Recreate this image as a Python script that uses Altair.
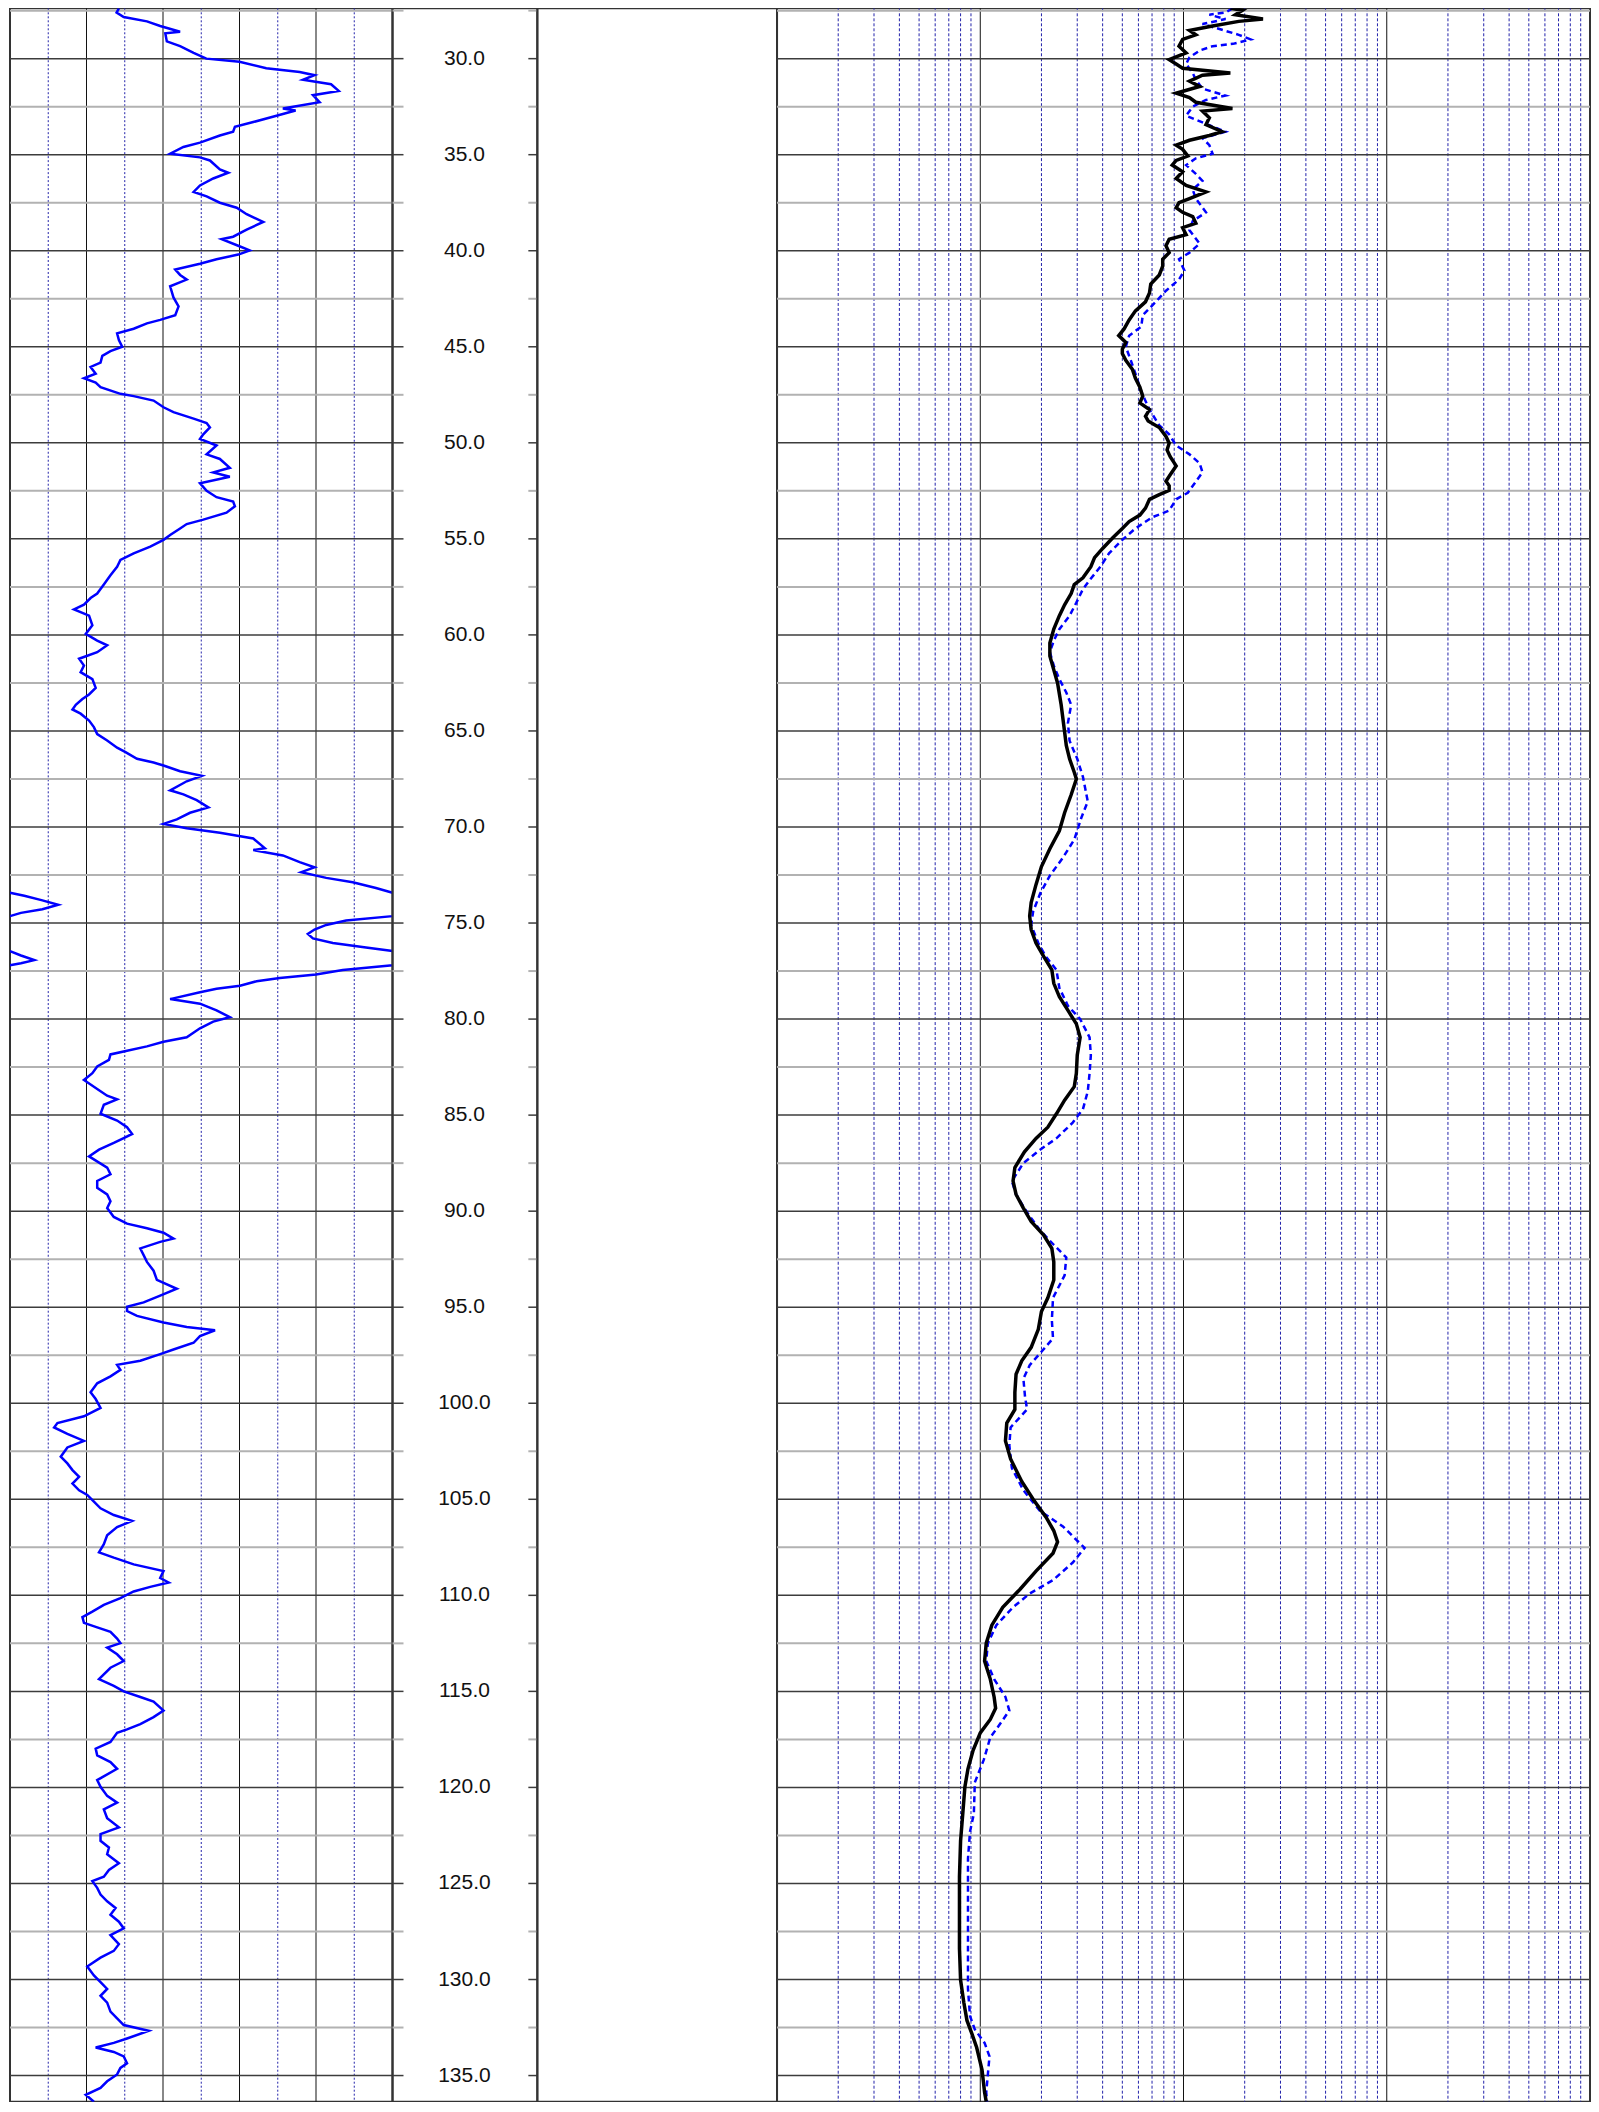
import altair as alt
import pandas as pd

# ---------------- data ----------------
gr_depth = [27.38, 27.6, 27.83, 28.06, 28.3, 28.6, 28.68, 29.1, 29.35, 29.7, 30.0, 30.16, 30.5, 30.7, 30.86,
            31.1, 31.33, 31.68, 31.9, 32.27, 32.6, 32.7, 32.97, 33.3, 33.55, 33.8, 34.0, 34.37, 34.6, 34.95, 35.14,
            35.3, 35.77, 35.94, 36.24, 36.6, 36.94, 37.17, 37.5, 37.76, 38.1, 38.5, 38.9, 39.27, 39.4, 39.74, 39.98,
            40.2, 40.44, 40.68, 40.98, 41.26, 41.5, 41.85, 42.43, 42.9, 43.36, 43.6, 43.78, 44.06, 44.3, 44.65, 45.0,
            45.23, 45.47, 45.82, 46.05, 46.4, 46.64, 46.87, 47.1, 47.45, 47.57, 47.8, 48.15, 48.4, 48.74, 48.97, 49.2,
            49.56, 49.8, 50.14, 50.6, 50.84, 51.3, 51.54, 51.77, 52.1, 52.5, 52.83, 53.06, 53.3, 53.64, 54.0, 54.23,
            54.46, 54.8, 55.05, 55.4, 55.75, 56.1, 56.45, 56.9, 57.38, 57.85, 58.08, 58.43, 58.67, 59.0, 59.5, 59.95,
            60.3, 60.54, 60.9, 61.24, 61.6, 61.94, 62.3, 62.76, 63.1, 63.34, 63.64, 63.88, 64.1, 64.46, 64.8, 65.16,
            65.5, 65.87, 66.1, 66.45, 66.64, 66.8, 67.1, 67.34, 67.62, 68.09, 68.3, 68.6, 68.98, 69.26, 69.6, 69.84,
            70.07, 70.3, 70.6, 71.1, 71.2, 71.48, 71.83, 72.1, 72.35, 72.65, 72.88, 73.18, 73.42, 73.58, 73.82, 74.05,
            74.28, 74.47, 74.64, 74.87, 75.1, 75.34, 75.57, 75.8, 76.04, 76.27, 76.46, 76.69, 76.93, 77.09, 77.2, 77.44,
            77.68, 77.86, 78.03, 78.26, 78.42, 78.6, 78.96, 79.2, 79.55, 79.9, 80.13, 80.48, 80.95, 81.18, 81.42, 81.65,
            81.84, 82.12, 82.47, 82.82, 83.17, 83.64, 83.99, 84.18, 84.46, 84.93, 85.28, 85.63, 85.98, 86.2, 86.45, 86.8,
            87.15, 87.73, 88.08, 88.43, 88.78, 89.13, 89.48, 89.84, 90.3, 90.65, 90.89, 91.12, 91.43, 91.6, 91.94, 92.29,
            92.64, 93.1, 93.58, 94.04, 94.4, 94.75, 94.98, 95.2, 95.45, 95.8, 96.03, 96.2, 96.5, 96.85, 97.2, 97.44,
            97.79, 98.0, 98.26, 98.6, 98.96, 99.43, 99.78, 100.24, 100.68, 101.03, 101.26, 101.6, 101.96, 102.3, 102.78, 103.13,
            103.48, 103.83, 104.18, 104.53, 104.77, 105.12, 105.47, 105.82, 106.12, 106.45, 106.87, 107.34, 107.76, 108.04, 108.39, 108.74,
            109.1, 109.33, 109.56, 109.8, 110.15, 110.5, 110.85, 111.13, 111.43, 111.67, 111.9, 112.25, 112.49, 112.72, 113.07, 113.42,
            113.77, 114.36, 114.71, 115.0, 115.29, 115.53, 116.0, 116.34, 116.7, 116.98, 117.16, 117.63, 117.98, 118.33, 118.68, 119.03,
            119.62, 119.97, 120.44, 120.79, 121.14, 121.6, 122.08, 122.43, 122.78, 123.13, 123.48, 123.95, 124.3, 124.65, 124.88, 125.23,
            125.58, 125.93, 126.28, 126.63, 126.99, 127.34, 127.69, 128.16, 128.51, 128.86, 129.32, 129.79, 130.14, 130.49, 130.85, 131.2,
            131.67, 132.02, 132.37, 132.67, 133.07, 133.3, 133.54, 133.77, 134.0, 134.36, 134.6, 134.94, 135.3, 135.64, 136.0, 136.36]
gr_value = [42.7, 41.8, 44.6, 53.7, 58.9, 66.7, 60.9, 61.5, 66.7, 72.0, 77.0, 90.0, 100.5, 113.6, 119.4,
            114.9, 125.9, 128.9, 118.8, 121.4, 107.0, 112.0, 104.5, 95.4, 88.2, 87.5, 82.3, 74.5, 68.0, 62.8, 74.5,
            78.4, 82.3, 85.6, 79.7, 74.5, 72.0, 77.1, 82.3, 88.9, 92.8, 99.3, 92.8, 87.5, 83.0, 89.5, 94.0,
            89.5, 81.0, 74.5, 64.8, 66.7, 69.3, 62.8, 64.1, 66.1, 64.8, 58.9, 53.7, 48.5, 42.0, 42.7, 44.0,
            39.4, 36.2, 35.5, 31.6, 33.6, 29.0, 33.6, 35.5, 43.3, 48.5, 56.3, 60.2, 64.1, 72.0, 77.1, 78.4,
            75.8, 74.5, 81.0, 77.1, 82.3, 86.2, 79.7, 86.2, 74.5, 77.1, 81.0, 87.5, 88.2, 84.9, 75.8, 69.3,
            66.7, 62.8, 60.2, 55.0, 48.5, 43.3, 42.0, 39.4, 36.8, 34.2, 31.6, 29.0, 25.1, 31.0, 32.3, 29.7,
            34.2, 38.1, 34.2, 27.1, 29.0, 27.7, 32.3, 33.6, 31.0, 28.4, 25.8, 24.5, 27.7, 31.0, 32.9, 34.2,
            38.1, 42.0, 45.3, 49.8, 56.3, 60.2, 66.7, 75.2, 69.3, 62.8, 68.0, 73.2, 77.8, 70.6, 65.4, 60.2,
            69.3, 82.3, 95.4, 99.9, 95.4, 107.0, 113.6, 119.4, 114.2, 124.0, 134.4, 143.5, 150.0, 155.6, 162.7, 168.9,
            162.7, 154.3, 150.0, 131.8, 124.0, 119.4, 116.8, 118.8, 126.6, 139.6, 150.0, 154.3, 159.5, 154.3, 150.0, 130.5,
            120.0, 105.8, 96.7, 90.2, 81.0, 74.5, 62.8, 74.5, 81.0, 86.2, 79.7, 74.5, 69.3, 60.2, 53.7, 45.9,
            39.4, 38.8, 34.2, 32.3, 29.0, 34.2, 38.1, 42.0, 36.8, 35.5, 42.0, 45.9, 47.9, 44.6, 40.7, 34.9,
            31.0, 38.1, 39.4, 34.2, 34.2, 38.1, 39.4, 38.1, 40.7, 45.9, 53.7, 60.2, 64.1, 58.9, 51.1, 52.4,
            53.7, 56.3, 57.6, 65.4, 58.9, 52.4, 45.9, 45.9, 49.8, 60.2, 69.3, 80.4, 74.5, 72.0, 64.1, 58.9,
            51.1, 42.0, 43.3, 39.4, 34.2, 31.6, 33.6, 35.5, 29.0, 18.6, 17.3, 22.5, 29.0, 22.5, 19.9, 22.5,
            24.5, 27.1, 24.5, 27.1, 30.3, 32.9, 35.5, 40.7, 47.9, 42.0, 38.1, 36.8, 34.9, 40.7, 48.5, 60.2,
            58.9, 62.2, 55.0, 48.5, 43.3, 36.8, 32.3, 28.4, 29.0, 34.2, 39.4, 42.0, 43.3, 38.1, 42.0, 44.6,
            39.4, 34.9, 40.7, 44.6, 51.1, 56.3, 60.2, 56.3, 51.1, 45.9, 42.0, 39.4, 33.6, 34.2, 39.4, 42.0,
            34.2, 35.5, 38.1, 42.0, 36.8, 38.1, 42.7, 35.5, 35.5, 38.8, 38.1, 42.7, 38.8, 36.8, 32.3, 34.2,
            35.5, 38.1, 41.4, 39.4, 42.7, 44.6, 39.4, 42.7, 40.7, 35.5, 30.3, 32.9, 35.5, 38.1, 35.5, 38.1,
            39.4, 42.0, 44.6, 54.4, 45.9, 40.7, 33.6, 40.7, 44.6, 45.9, 43.3, 42.0, 38.1, 35.5, 29.7, 32.9]

deep_depth = [27.38, 27.48, 27.71, 27.94, 28.06, 28.3, 28.53, 28.76, 29.0, 29.35, 29.7, 30.05, 30.28, 30.5, 30.75,
              30.86, 31.17, 31.45, 31.8, 32.03, 32.27, 32.6, 32.73, 33.08, 33.43, 33.8, 34.0, 34.25, 34.5, 34.72, 35.07,
              35.3, 35.54, 35.89, 36.24, 36.6, 36.94, 37.29, 37.5, 37.76, 38.0, 38.22, 38.57, 38.8, 39.16, 39.4, 39.74,
              40.1, 40.44, 40.8, 41.26, 41.73, 42.2, 42.66, 43.13, 43.6, 44.07, 44.42, 44.77, 45.12, 45.35, 45.7, 46.17,
              46.64, 47.1, 47.57, 47.92, 48.27, 48.62, 48.86, 49.2, 49.67, 50.02, 50.37, 50.72, 51.2, 51.66, 52.0, 52.24,
              52.48, 52.7, 52.94, 53.4, 53.76, 54.1, 54.46, 54.93, 55.5, 55.98, 56.45, 57.03, 57.38, 57.85, 58.43, 59.0,
              59.7, 60.42, 61.1, 61.82, 62.5, 63.64, 64.35, 65.05, 65.75, 66.45, 67.15, 67.5, 68.32, 69.26, 70.2, 71.13,
              72.06, 73.0, 73.93, 74.64, 75.34, 76.04, 76.74, 77.44, 78.14, 78.84, 79.55, 80.25, 80.95, 81.88, 82.82, 83.52,
              84.22, 84.93, 85.63, 86.21, 86.91, 87.73, 88.43, 89.13, 89.84, 90.54, 91.24, 91.94, 92.64, 93.58, 94.51, 95.22,
              96.15, 97.09, 97.79, 98.49, 99.43, 100.32, 101.03, 101.96, 102.9, 104.07, 105.0, 105.94, 106.64, 107.22, 107.81, 108.74,
              109.68, 110.62, 111.55, 112.49, 113.42, 114.36, 115.29, 115.88, 116.46, 117.16, 118.1, 119.03, 119.97, 121.37, 122.78, 124.65,
              126.52, 128.39, 130.03, 131.2, 132.13, 132.83, 133.54, 134.7, 135.87, 136.36]
deep_value = [17.0, 19.5, 18.0, 24.6, 18.7, 13.9, 10.7, 11.5, 9.9, 9.5, 10.3, 8.5, 9.2, 9.9, 17.0,
              12.4, 10.7, 12.0, 9.2, 10.7, 11.5, 17.4, 12.4, 13.4, 12.9, 15.5, 13.4, 10.7, 9.2, 9.9, 10.5,
              9.2, 8.8, 9.9, 9.2, 10.3, 12.9, 10.7, 9.5, 9.2, 9.9, 11.1, 11.5, 9.9, 10.3, 8.5, 8.2,
              8.5, 7.9, 7.9, 7.6, 6.9, 6.8, 6.5, 5.8, 5.4, 5.1, 4.8, 5.2, 5.0, 5.0, 5.2, 5.6,
              5.8, 6.1, 6.3, 6.1, 6.8, 6.5, 6.7, 7.6, 8.2, 8.5, 8.3, 8.6, 9.2, 8.6, 8.2, 8.5,
              8.5, 7.6, 6.8, 6.5, 6.1, 5.4, 5.0, 4.5, 4.0, 3.65, 3.5, 3.2, 2.9, 2.8, 2.6, 2.45,
              2.3, 2.2, 2.2, 2.3, 2.4, 2.5, 2.55, 2.6, 2.65, 2.75, 2.9, 2.97, 2.8, 2.6, 2.45, 2.2,
              2.0, 1.88, 1.78, 1.75, 1.78, 1.88, 2.05, 2.25, 2.3, 2.45, 2.7, 2.97, 3.1, 3.0, 2.97, 2.9,
              2.6, 2.37, 2.15, 1.88, 1.65, 1.48, 1.45, 1.5, 1.63, 1.78, 2.05, 2.25, 2.3, 2.3, 2.15, 2.0,
              1.93, 1.78, 1.6, 1.5, 1.48, 1.48, 1.35, 1.33, 1.41, 1.6, 1.82, 2.11, 2.3, 2.4, 2.28, 1.88,
              1.57, 1.29, 1.14, 1.07, 1.05, 1.12, 1.17, 1.19, 1.12, 1.0, 0.92, 0.87, 0.84, 0.82, 0.8, 0.79,
              0.79, 0.79, 0.8, 0.83, 0.86, 0.91, 0.96, 1.02, 1.05, 1.07]

shallow_depth = [27.38, 27.6, 27.71, 27.94, 28.2, 28.4, 28.76, 29.0, 29.23, 29.35, 29.58, 29.93, 30.28, 30.75,
                 31.1, 31.56, 31.92, 32.15, 32.5, 32.97, 33.32, 33.8, 34.14, 34.5, 34.95, 35.19, 35.54, 36.0, 36.36, 36.82,
                 37.29, 38.0, 38.46, 38.93, 39.63, 40.1, 40.44, 41.03, 41.5, 42.08, 42.66, 43.36, 43.95, 44.42, 45.0, 45.7,
                 46.4, 47.34, 48.27, 49.09, 49.56, 50.14, 50.6, 51.07, 51.54, 52.13, 52.6, 52.94, 53.53, 53.88, 54.46, 55.05,
                 55.75, 56.45, 57.15, 57.62, 58.32, 59.0, 59.7, 60.3, 60.9, 61.6, 62.3, 63.0, 63.64, 64.58, 65.51, 66.45,
                 67.39, 68.67, 69.49, 70.66, 71.6, 72.53, 73.47, 74.4, 75.1, 76.04, 76.74, 77.44, 78.38, 79.31, 80.0, 80.95,
                 81.88, 82.82, 83.76, 84.69, 85.39, 86.21, 86.8, 87.5, 88.43, 89.13, 90.07, 91.0, 91.71, 92.41, 93.34, 94.51,
                 95.68, 96.62, 97.32, 98.02, 98.72, 99.66, 100.32, 101.26, 102.2, 103.37, 104.53, 105.59, 106.41, 107.11, 107.53, 108.28,
                 109.21, 109.91, 110.62, 111.55, 112.49, 113.42, 114.36, 115.29, 116.0, 116.7, 117.4, 118.57, 119.74, 121.37, 122.31, 123.71,
                 126.05, 128.39, 130.49, 131.9, 132.6, 133.3, 134.0, 134.94, 135.87, 136.36]
shallow_value = [17.4, 16.1, 13.4, 16.1, 12.4, 14.4, 18.7, 21.4, 17.5, 13.9, 12.0, 10.7, 10.3, 11.1,
                 11.5, 12.4, 16.1, 12.9, 11.1, 10.3, 12.4, 16.1, 12.4, 13.4, 13.9, 11.5, 10.3, 11.5, 12.4, 11.1,
                 11.5, 12.9, 11.1, 10.7, 12.0, 10.7, 9.5, 10.1, 9.5, 8.2, 7.3, 6.3, 6.2, 5.4, 5.2, 5.5,
                 5.8, 6.2, 6.8, 7.6, 8.5, 9.2, 10.7, 12.0, 12.4, 11.3, 10.5, 9.2, 8.5, 7.0, 5.8, 5.0,
                 4.3, 3.9, 3.45, 3.2, 2.97, 2.75, 2.45, 2.3, 2.2, 2.3, 2.45, 2.65, 2.8, 2.7, 2.75, 3.0,
                 3.2, 3.38, 3.15, 2.9, 2.55, 2.2, 1.97, 1.82, 1.78, 1.93, 2.1, 2.37, 2.45, 2.7, 3.1, 3.45,
                 3.5, 3.45, 3.38, 3.2, 2.85, 2.37, 1.97, 1.63, 1.43, 1.5, 1.7, 1.97, 2.28, 2.65, 2.6, 2.28,
                 2.25, 2.28, 2.0, 1.75, 1.63, 1.66, 1.7, 1.41, 1.39, 1.43, 1.63, 1.96, 2.55, 2.97, 3.26, 2.86,
                 2.28, 1.75, 1.45, 1.2, 1.09, 1.07, 1.17, 1.33, 1.39, 1.25, 1.12, 1.04, 0.94, 0.93, 0.89, 0.87,
                 0.87, 0.87, 0.87, 0.89, 0.94, 1.05, 1.11, 1.09, 1.07, 1.08]

depth_labels = [30, 35, 40, 45, 50, 55, 60, 65, 70, 75, 80, 85, 90, 95, 100, 105, 110, 115, 120, 125, 130, 135]
minor_depths = [27.5, 32.5, 37.5, 42.5, 47.5, 52.5, 57.5, 62.5, 67.5, 72.5, 77.5, 82.5, 87.5, 92.5, 97.5,
                102.5, 107.5, 112.5, 117.5, 122.5, 127.5, 132.5]
gr_major_ticks = [30, 60, 90, 120]
gr_minor_ticks = [15, 45, 75, 105, 135]
res_major_ticks = [1, 10, 100]
res_minor_ticks = [0.2, 0.3, 0.4, 0.5, 0.6, 0.7, 0.8, 0.9, 2, 3, 4, 5, 6, 7, 8, 9,
                   20, 30, 40, 50, 60, 70, 80, 90, 200, 300, 400, 500, 600, 700, 800, 900]

GR_MAX = 150
Y_DOMAIN = [27.38, 136.36]
H = 2096

# ---------------- tables ----------------
gr_df = pd.DataFrame({"depth": gr_depth, "gr": gr_value})
mask = gr_df["gr"] >= GR_MAX
seg_id = (mask != mask.shift()).cumsum()
wrap_df = gr_df[mask].copy()
wrap_df["gr"] = wrap_df["gr"] - GR_MAX
wrap_df["seg"] = seg_id[mask]

deep_df = pd.DataFrame({"depth": deep_depth, "res": deep_value})
shallow_df = pd.DataFrame({"depth": shallow_depth, "res": shallow_value})
major_df = pd.DataFrame({"depth": depth_labels, "label": [f"{d:.1f}" for d in depth_labels]})
minor_df = pd.DataFrame({"depth": minor_depths})

y_scale = alt.Scale(domain=Y_DOMAIN, reverse=True, nice=False, zero=False)
Y = alt.Y("depth:Q", scale=y_scale, axis=None)

MAJ_H = dict(color="#3c3c3c", strokeWidth=1.5)
MIN_H = dict(color="#b2b2b2", strokeWidth=2)
DOT = "#2222aa"

def hgrid():
    return [
        alt.Chart(minor_df).mark_rule(**MIN_H).encode(y=Y),
        alt.Chart(major_df).mark_rule(**MAJ_H).encode(y=Y),
    ]

# ---------------- GR track ----------------
gx = alt.Scale(domain=[0, GR_MAX], nice=False, zero=False)
gr_layers = [
    alt.Chart(pd.DataFrame({"gr": gr_minor_ticks})).mark_rule(color=DOT, strokeWidth=1, strokeDash=[2, 2]).encode(
        x=alt.X("gr:Q", scale=gx, axis=None)),
    alt.Chart(pd.DataFrame({"gr": gr_major_ticks})).mark_rule(color="#111111", strokeWidth=1).encode(
        x=alt.X("gr:Q", scale=gx, axis=None)),
] + hgrid() + [
    alt.Chart(gr_df).mark_line(color="#0000ff", strokeWidth=2.5, clip=True).encode(
        x=alt.X("gr:Q", scale=gx, axis=None), y=Y, order="depth:Q"),
    alt.Chart(wrap_df).mark_line(color="#0000ff", strokeWidth=2.5, clip=True).encode(
        x=alt.X("gr:Q", scale=gx, axis=None), y=Y, detail="seg:N", order="depth:Q"),
]
gr_chart = alt.layer(*gr_layers).properties(width=383, height=H)

# ---------------- depth track ----------------
DW = 145
depth_layers = [
    alt.Chart(minor_df).mark_rule(**MIN_H).encode(y=Y, x=alt.value(0), x2=alt.value(11)),
    alt.Chart(major_df).mark_rule(**MAJ_H).encode(y=Y, x=alt.value(0), x2=alt.value(11)),
    alt.Chart(minor_df).mark_rule(**MIN_H).encode(y=Y, x=alt.value(DW - 9), x2=alt.value(DW)),
    alt.Chart(major_df).mark_rule(**MAJ_H).encode(y=Y, x=alt.value(DW - 9), x2=alt.value(DW)),
    alt.Chart(major_df).mark_text(font="Liberation Sans", fontSize=21, color="#111111",
                                  align="center", baseline="middle").encode(
        y=Y, x=alt.value(72), text="label:N"),
]
depth_chart = alt.layer(*depth_layers).properties(width=DW, height=H)

# ---------------- blank track ----------------
blank_chart = alt.Chart(major_df).mark_point(opacity=0).encode(y=Y).properties(width=240, height=H)

# ---------------- resistivity track ----------------
rx = alt.Scale(type="log", domain=[0.1, 1000], nice=False)
res_layers = [
    alt.Chart(pd.DataFrame({"res": res_minor_ticks})).mark_rule(color=DOT, strokeWidth=1, strokeDash=[3, 2]).encode(
        x=alt.X("res:Q", scale=rx, axis=None)),
    alt.Chart(pd.DataFrame({"res": res_major_ticks})).mark_rule(color="#111111", strokeWidth=1).encode(
        x=alt.X("res:Q", scale=rx, axis=None)),
] + hgrid() + [
    alt.Chart(shallow_df).mark_line(color="#0000ff", strokeWidth=2.5, strokeDash=[6, 4], clip=True).encode(
        x=alt.X("res:Q", scale=rx, axis=None), y=Y, order="depth:Q"),
    alt.Chart(deep_df).mark_line(color="#000000", strokeWidth=3.5, clip=True).encode(
        x=alt.X("res:Q", scale=rx, axis=None), y=Y, order="depth:Q"),
]
res_chart = alt.layer(*res_layers).properties(width=814, height=H)

# the thick curves run to the top/bottom edge; their stroke extents are trimmed by the padding
chart = alt.hconcat(gr_chart, depth_chart, blank_chart, res_chart, spacing=0, bounds="flush").properties(
    padding={"left": 0, "top": -3, "right": -1, "bottom": -3}
).configure_view(stroke="#333333", strokeWidth=2)

chart.save("out.html", embed_options={"renderer": "svg", "actions": False})
